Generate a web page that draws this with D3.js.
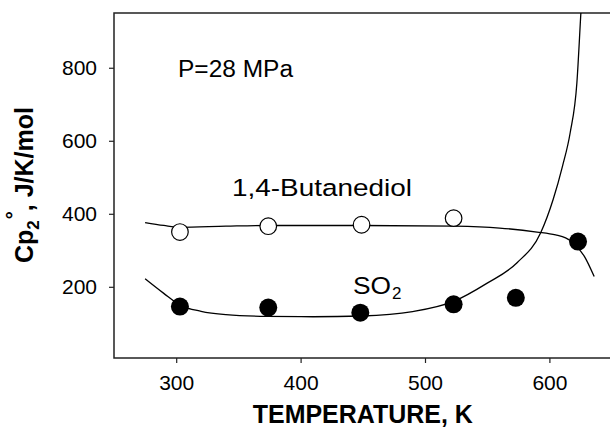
<!DOCTYPE html>
<html>
<head>
<meta charset="utf-8">
<script src="https://cdn.jsdelivr.net/npm/d3@7"></script>
<style>
  html, body { margin: 0; padding: 0; background: #fff; }
  svg { display: block; font-family: "Liberation Sans", Arial, Helvetica, sans-serif; }
</style>
</head>
<body>
<svg id="chart" width="610" height="428"></svg>
<script>
// ---- data ----
const xTicks = [300, 400, 500, 600];
const yTicks = [200, 400, 600, 800];

// 1,4-Butanediol (open circles)
const butTemp = [303, 374, 449, 523];
const butCp   = [350, 366, 370, 388];

// SO2 (filled circles)
const so2Temp = [303, 374, 448, 523, 573, 623];
const so2Cp   = [146, 143, 129, 152, 170, 324];

// fitted curves
const butCurveT  = [275, 290, 303, 340, 375, 449, 524, 560, 590, 605, 613, 619, 628, 636];
const butCurveCp = [376, 368, 363, 366, 368, 368, 366, 361, 350, 342, 334, 321, 284, 228];

const so2CurveT  = [275, 290, 303, 320, 340, 373, 410, 449, 490, 523, 550, 574, 593, 603, 610.5, 616.7, 622.1, 625.3, 627];
const so2CurveCp = [222, 182, 150, 133, 124, 119, 118, 120, 132, 160, 210, 266, 348, 439, 530, 622, 759, 950, 1050];

// ---- layout ----
const svg = d3.select("#chart");
const mLeft = 114, mRight = 611.6, mTop = 13, mBottom = 358;

const x = d3.scaleLinear().domain([250, 650]).range([mLeft, mRight]);
const y = d3.scaleLinear().domain([5, 950]).range([mBottom, mTop]);

svg.append("defs").append("clipPath").attr("id", "plotclip")
  .append("rect").attr("x", mLeft).attr("y", mTop)
  .attr("width", mRight - mLeft).attr("height", mBottom - mTop);

// axes
const yAxis = d3.axisLeft(y).tickValues(yTicks).tickSize(5).tickPadding(12).tickFormat(d3.format("d"));
const xAxis = d3.axisBottom(x).tickValues(xTicks).tickSize(5).tickPadding(12).tickFormat(d3.format("d"));

const gy = svg.append("g").attr("transform", `translate(${mLeft},0)`).call(yAxis);
const gx = svg.append("g").attr("transform", `translate(0,${mBottom})`).call(xAxis);
[gx, gy].forEach(g => {
  g.select(".domain").remove();
  g.selectAll(".tick line").attr("stroke", "#222").attr("stroke-width", 1.2);
  g.selectAll(".tick text").attr("fill", "#000").style("font-size", "21px")
    .style("font-family", "'Liberation Sans', Arial, sans-serif");
});

// frame
svg.append("rect")
  .attr("x", mLeft).attr("y", mTop)
  .attr("width", mRight - mLeft).attr("height", mBottom - mTop)
  .attr("fill", "none").attr("stroke", "#222").attr("stroke-width", 1.5);

// curves
const plot = svg.append("g").attr("clip-path", "url(#plotclip)");
const line = d3.line().x(d => x(d[0])).y(d => y(d[1])).curve(d3.curveMonotoneX);

plot.append("path")
  .datum(butCurveT.map((t, i) => [t, butCurveCp[i]]))
  .attr("d", line).attr("fill", "none").attr("stroke", "#000").attr("stroke-width", 1.3);

plot.append("path")
  .datum(so2CurveT.map((t, i) => [t, so2CurveCp[i]]))
  .attr("d", line).attr("fill", "none").attr("stroke", "#000").attr("stroke-width", 1.3);

// markers
svg.append("g").selectAll("circle")
  .data(butTemp.map((t, i) => [t, butCp[i]]))
  .join("circle")
  .attr("cx", d => x(d[0])).attr("cy", d => y(d[1])).attr("r", 8.3)
  .attr("fill", "#fff").attr("stroke", "#000").attr("stroke-width", 1.2);

svg.append("g").selectAll("circle")
  .data(so2Temp.map((t, i) => [t, so2Cp[i]]))
  .join("circle")
  .attr("cx", d => x(d[0])).attr("cy", d => y(d[1])).attr("r", 9)
  .attr("fill", "#000");

// annotations
svg.append("text").attr("x", 178).attr("y", 77)
  .attr("textLength", 115).attr("lengthAdjust", "spacingAndGlyphs")
  .style("font-size", "23.5px").text("P=28 MPa");

svg.append("text").attr("x", 232).attr("y", 196)
  .attr("textLength", 180).attr("lengthAdjust", "spacingAndGlyphs")
  .style("font-size", "24.5px").text("1,4-Butanediol");

const so2 = svg.append("text").attr("x", 353).attr("y", 294).style("font-size", "24px");
so2.append("tspan").attr("textLength", 38).attr("lengthAdjust", "spacingAndGlyphs").text("SO");
so2.append("tspan").attr("dy", 5).attr("dx", 1).style("font-size", "17px").text("2");

// axis titles
svg.append("text")
  .attr("x", (mLeft + mRight) / 2).attr("y", 423)
  .attr("text-anchor", "middle")
  .attr("textLength", 220).attr("lengthAdjust", "spacingAndGlyphs")
  .style("font-size", "25px").style("font-weight", "bold")
  .text("TEMPERATURE, K");

const yt = svg.append("text")
  .attr("transform", "translate(33,263) rotate(-90)")
  .style("font-size", "25px").style("font-weight", "bold");
yt.append("tspan").text("Cp");
yt.append("tspan").attr("dy", 6).style("font-size", "17px").text("2");
yt.append("tspan").attr("dy", -19).attr("dx", 1).style("font-size", "20px").text("°");
yt.append("tspan").attr("dy", 13).text(", J/K/mol");
</script>
</body>
</html>
